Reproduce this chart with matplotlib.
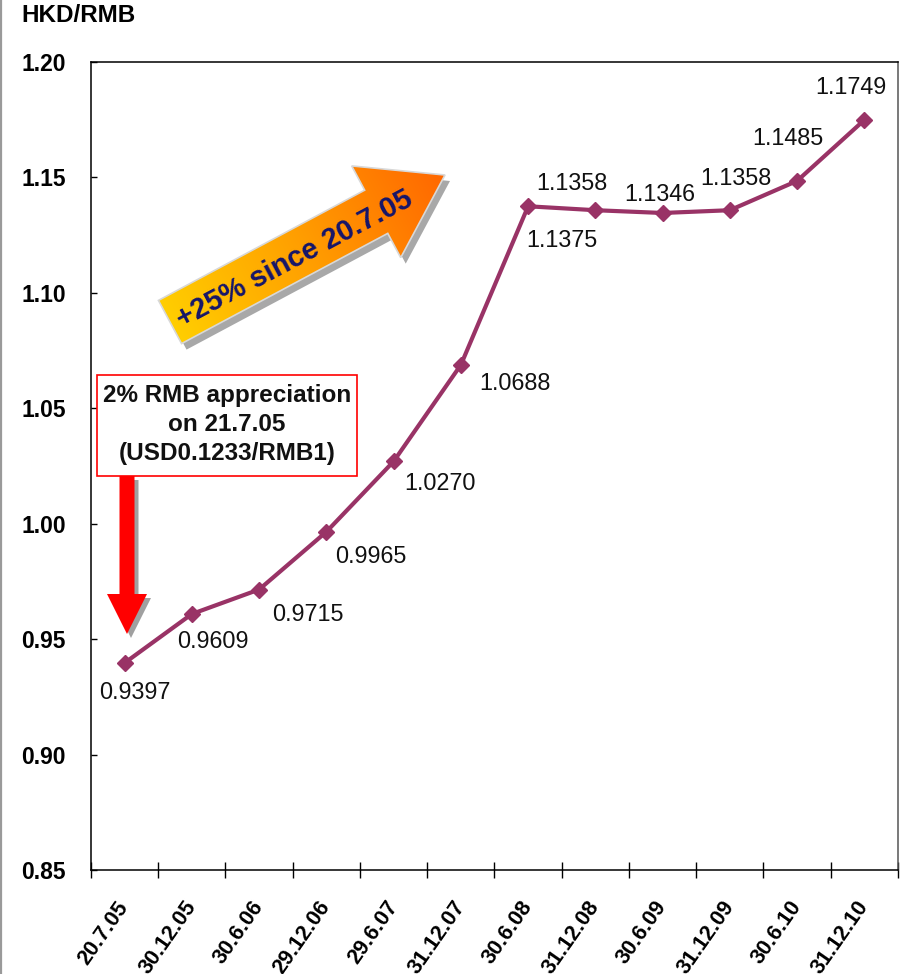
import numpy as np
import matplotlib
matplotlib.use("Agg")
import matplotlib.pyplot as plt
from matplotlib.patches import Polygon, Rectangle
from matplotlib.colors import LinearSegmentedColormap
from matplotlib.lines import Line2D

plt.rcParams['font.family'] = ['Liberation Sans', 'DejaVu Sans']

# HKD per RMB at each reporting date
dates = ["20.7.05", "30.12.05", "30.6.06", "29.12.06", "29.6.07", "31.12.07",
         "30.6.08", "31.12.08", "30.6.09", "31.12.09", "30.6.10", "31.12.10"]
rates = [0.9397, 0.9609, 0.9715, 0.9965, 1.0270, 1.0688,
         1.1375, 1.1358, 1.1346, 1.1358, 1.1485, 1.1749]
y_ticks = [0.85, 0.90, 0.95, 1.00, 1.05, 1.10, 1.15, 1.20]

# value label placement relative to each marker (pixels)
label_offsets = [(10, -30), (21, -28), (49, -25), (44, -25), (46, -22), (54, -19),
                 (34, -34), (-23, 27), (-3, 18), (6, 32), (-9, 42), (-13, 32)]

W, H = 904, 974
fig = plt.figure(figsize=(W / 100, H / 100), dpi=100)
ax = fig.add_axes([91 / W, 1 - 870 / H, (898 - 91) / W, (870 - 62) / H])

x = np.arange(len(dates))
line_color = '#993366'
ax.plot(x, rates, color=line_color, lw=3.0, marker='D', ms=8.5, zorder=3)

for i, (v, off) in enumerate(zip(rates, label_offsets)):
    ax.annotate(f"{v:.4f}", (i, v), xytext=off, textcoords='offset pixels',
                ha='center', va='center', fontsize=16.8, color='#111111')

ax.set_xlim(-0.5, len(dates) - 0.5)
ax.set_ylim(y_ticks[0], y_ticks[-1])
ax.set_yticks(y_ticks)
ax.set_yticklabels([f"{v:.2f}" for v in y_ticks], fontsize=16.5, fontweight='bold')
ax.tick_params(axis='y', direction='in', length=4.5, width=1, pad=18)

# boundaries between periods carry the ticks, centres carry the labels
ax.set_xticks(np.arange(len(dates) + 1) - 0.5)
ax.set_xticklabels([])
ax.tick_params(axis='x', which='major', direction='inout', length=11, width=1)
ax.set_xticks(x, minor=True)
ax.set_xticklabels(dates, minor=True, rotation=55, ha='right', va='center',
                   rotation_mode='anchor', fontsize=15.5, fontweight='bold')
ax.tick_params(axis='x', which='minor', length=0, pad=24)
for s in ax.spines.values():
    s.set_linewidth(1.1)
ax.spines['right'].set_color('#555555')

fig.text(21 / W, 1 - 16 / H, "HKD/RMB", fontsize=17.5, fontweight='bold', va='center')

# overlay in pixel coordinates for callouts
ov = fig.add_axes([0, 0, 1, 1])
ov.set_xlim(0, W)
ov.set_ylim(H, 0)
ov.axis('off')

ov.add_line(Line2D([1.5, 1.5], [0, H], color='#9a9a9a', lw=1.6))


def arrow_poly(tail, tip, shaft_w, head_w, head_len):
    tail = np.asarray(tail, float)
    tip = np.asarray(tip, float)
    d = tip - tail
    u = d / np.hypot(*d)
    v = np.array([-u[1], u[0]])
    hb = tip - u * head_len
    return np.array([tail + v * shaft_w / 2, hb + v * shaft_w / 2, hb + v * head_w / 2,
                     tip, hb - v * head_w / 2, hb - v * shaft_w / 2, tail - v * shaft_w / 2])


# big gradient arrow
tail, tip = (170, 322), (445, 175)
pts = arrow_poly(tail, tip, 49, 104, 78)
ov.add_patch(Polygon(pts + np.array([5, 6]), closed=True, facecolor='#a8a8a8',
                     edgecolor='none', zorder=1))
poly = Polygon(pts, closed=True, facecolor='none', edgecolor='#d8d8d8', lw=1.2, zorder=3)
ov.add_patch(poly)
xmin, ymin = pts.min(axis=0)
xmax, ymax = pts.max(axis=0)
gx, gy = np.meshgrid(np.linspace(xmin, xmax, 300), np.linspace(ymin, ymax, 200))
u = (np.array(tip) - np.array(tail)) / np.hypot(*(np.array(tip) - np.array(tail)))
proj = (gx - tail[0]) * u[0] + (gy - tail[1]) * u[1]
proj = (proj - proj.min()) / (proj.max() - proj.min())
cmap = LinearSegmentedColormap.from_list('warm', ['#ffd400', '#ffa000', '#ff6600'])
im = ov.imshow(proj, extent=(xmin, xmax, ymax, ymin), origin='upper', cmap=cmap,
               aspect='auto', zorder=2, interpolation='bilinear')
im.set_clip_path(poly)
ov.text(295, 259, "+25% since 20.7.05", rotation=28, ha='center', va='center',
        rotation_mode='anchor', fontsize=21, fontweight='bold', color='#15156a', zorder=4)

# red down arrow and its note
rpts = arrow_poly((127, 476), (127, 634), 15, 40, 40)
ov.add_patch(Polygon(rpts + np.array([4, 4]), closed=True, facecolor='#a0a0a0',
                     edgecolor='none', zorder=1))
ov.add_patch(Polygon(rpts, closed=True, facecolor='#ff0000', edgecolor='none', zorder=2))
ov.add_patch(Rectangle((97, 375), 260, 101, facecolor='white', edgecolor='#ff0000',
                       lw=1.2, zorder=3))
for txt, yb in zip(["2% RMB appreciation", "on 21.7.05", "(USD0.1233/RMB1)"],
                   [402, 431, 460]):
    ov.text(227, yb, txt, ha='center', va='baseline', fontsize=17.5,
            fontweight='bold', color='#111111', zorder=4)

fig.savefig("out.png", dpi=100)
